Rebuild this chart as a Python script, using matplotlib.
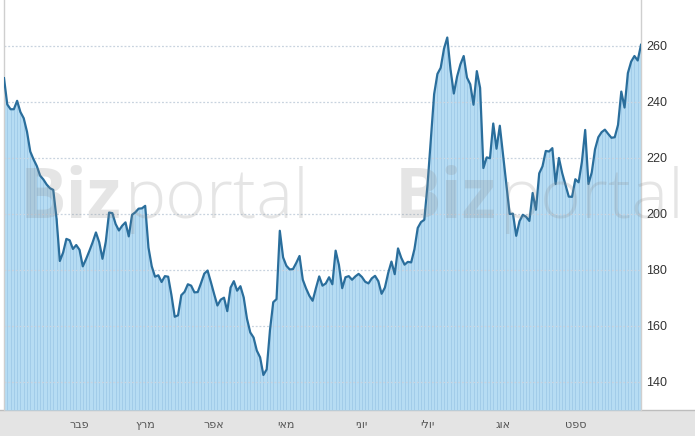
import matplotlib
matplotlib.use("Agg")
import matplotlib.pyplot as plt
import numpy as np
import pandas as pd
from matplotlib.patches import Rectangle
from matplotlib.lines import Line2D

# ---- data ----
start_date = "2019-01-01"
end_date = "2019-09-30"
prices = [
    248.5, 239.1, 237.4, 237.4, 240.4, 236.4, 234.2, 229.4, 222.3, 219.5,
    217.1, 213.7, 212.3, 210.5, 209.2, 208.6, 198.4, 183.2, 186.2, 191.1,
    190.6, 187.5, 188.9, 187.2, 181.3, 183.9, 186.8, 189.9, 193.4, 189.9,
    184.0, 190.1, 200.5, 200.3, 196.4, 194.1, 195.8, 197.0, 192.0, 199.7,
    200.6, 201.9, 202.0, 202.9, 188.0, 181.3, 177.6, 178.1, 175.7, 177.8,
    177.6, 171.0, 163.3, 163.8, 171.0, 172.2, 174.9, 174.4, 172.0, 172.1,
    175.3, 178.7, 179.8, 175.7, 171.4, 167.3, 169.4, 170.1, 165.3, 173.7,
    176.0, 172.6, 174.2, 170.2, 162.6, 157.7, 155.9, 151.2, 148.8, 142.5,
    144.5, 158.5, 168.5, 169.6, 194.0, 184.5, 181.5, 180.2, 180.3, 182.5,
    185.0, 176.5, 173.4, 170.8, 169.0, 173.5, 177.7, 174.4, 175.2, 177.4,
    174.9, 186.9, 181.8, 173.5, 177.4, 177.8, 176.5, 177.7, 178.6, 177.5,
    175.8, 175.2, 177.0, 177.9, 176.0, 171.5, 173.7, 178.9, 183.0, 178.5,
    187.7, 184.3, 181.9, 182.9, 182.7, 187.4, 195.0, 197.1, 197.9, 210.6,
    226.9, 242.8, 250.0, 252.2, 259.0, 263.0, 251.5, 243.0, 249.1, 253.4,
    256.4, 248.7, 246.3, 239.0, 251.0, 245.0, 216.4, 220.2, 219.9, 232.3,
    223.3, 231.5, 221.0, 210.2, 200.0, 200.1, 192.2, 197.4, 199.7, 199.0,
    197.5, 207.5, 201.5, 214.5, 217.0, 222.5, 222.3, 223.5, 210.7, 220.0,
    214.6, 210.4, 206.2, 206.1, 212.4, 211.3, 218.6, 230.0, 210.7, 214.8,
    223.1, 227.4, 229.2, 230.1, 228.6, 227.2, 227.4, 231.8, 243.7, 238.0,
    250.3, 254.4, 256.4, 254.8, 260.4,
]
month_labels = ["ינו", "פבר", "מרץ", "אפר", "מאי", "יוני", "יולי", "אוג", "ספט"]
y_ticks = [140, 160, 180, 200, 220, 240, 260]

dates = pd.bdate_range(start_date, end_date)[: len(prices)]
vals = np.array(prices)
idx = np.arange(len(vals))

# month start positions (first trading day in each month)
months = dates.to_period("M")
first_idx = [int(np.argmax(months == m)) for m in months.unique()]

# ---- figure ----
W, H = 695, 436
fig = plt.figure(figsize=(W / 100, H / 100), dpi=100)
fig.patch.set_facecolor("white")

# bottom gray band (behind the axes)
fig.patches.append(Rectangle((0, 0), 1, 26 / H, transform=fig.transFigure,
                             facecolor="#e4e4e4", edgecolor="none", zorder=-5))
fig.lines.append(Line2D([0, 1], [26 / H, 26 / H], transform=fig.transFigure,
                        color="#bdbdbd", lw=1.0, zorder=-4))

left_px, right_px, bottom_px = 4, 641, 26
ax = fig.add_axes([left_px / W, bottom_px / H, (right_px - left_px) / W, 1 - bottom_px / H])
ax.patch.set_alpha(0)
ymin, ymax = 130, 276.4
ax.set_xlim(idx[0], idx[-1])
ax.set_ylim(ymin, ymax)

# area fill + stripes
ax.fill_between(idx, ymin, vals, color="#b6dcf3", lw=0, zorder=1)
ax.vlines(idx, ymin, vals, color="#9cc8e6", lw=0.55, zorder=1.2)

# grid
for t in y_ticks:
    ax.axhline(t, color="#c8d3df", lw=0.9, ls=(0, (1.5, 1.5)), zorder=1.5)

# watermark
wm_color = (0.55, 0.55, 0.55)
for x0 in (20, 395):
    fig.text(x0 / W, (H - 218) / H, "Biz", fontsize=50, fontweight="bold",
             family="Open Sans", color=wm_color, alpha=0.22, zorder=3)
    fig.text((x0 + 105) / W, (H - 218) / H, "portal", fontsize=50, fontweight="light",
             family="Open Sans", color=wm_color, alpha=0.22, zorder=3)

# line
ax.plot(idx, vals, color="#2a6e9c", lw=1.6, zorder=4, solid_joinstyle="round")

# spines
for s in ("top", "bottom"):
    ax.spines[s].set_visible(False)
for s in ("left", "right"):
    ax.spines[s].set_color("#cfcfcf")
    ax.spines[s].set_linewidth(1)

# y axis on right
ax.yaxis.tick_right()
ax.set_yticks(y_ticks)
ax.set_yticklabels([str(t) for t in y_ticks], fontsize=9, color="#333333",
                   family="Liberation Sans")
ax.tick_params(axis="y", length=0, pad=4)

# x axis month labels (first month sits at the edge and is not labelled)
ax.set_xticks(first_idx[1:])
ax.set_xticklabels([m[::-1] for m in month_labels[1:len(first_idx)]], fontsize=8,
                   color="#555555", family="DejaVu Sans")
ax.tick_params(axis="x", length=0, pad=7)

fig.savefig("out.png", dpi=100)
